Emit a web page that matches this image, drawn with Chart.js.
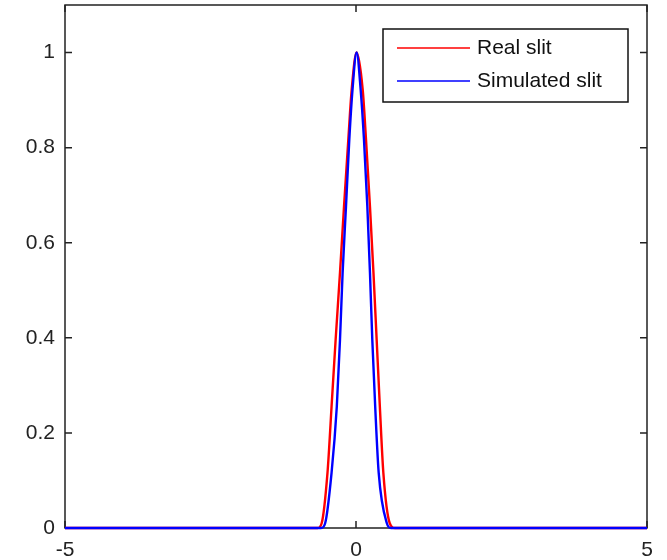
<!DOCTYPE html>
<html>
<head>
<meta charset="utf-8">
<script src="https://cdn.jsdelivr.net/npm/chart.js@4"></script>
<style>
  html, body { margin: 0; padding: 0; background: #fff; }
  #wrap { width: 667px; height: 560px; }
</style>
</head>
<body>
<div id="wrap"><canvas id="chart-area"></canvas></div>
<script>
// real slit profile (x, y)
var realX = [-5, -0.66, -0.59, -0.49, -0.42, -0.35, -0.275, -0.206, -0.132, -0.074, 0.01, 0.115, 0.172, 0.24, 0.30, 0.355, 0.41, 0.47, 0.58, 0.67, 5];
var realY = [0, 0, 0.01, 0.116, 0.255, 0.396, 0.537, 0.676, 0.817, 0.922, 1.0, 0.922, 0.817, 0.676, 0.537, 0.396, 0.255, 0.116, 0.01, 0, 0];

// simulated slit
var simX = [-5, -0.6, -0.53, -0.42, -0.33, -0.275, -0.23, -0.172, -0.115, -0.06, 0.01, 0.08, 0.137, 0.195, 0.24, 0.28, 0.33, 0.39, 0.53, 0.6, 5];
var simY = [0, 0, 0.01, 0.116, 0.255, 0.396, 0.537, 0.676, 0.817, 0.922, 1.0, 0.922, 0.817, 0.676, 0.537, 0.396, 0.255, 0.116, 0.01, 0, 0];

var xTicks = [-5, 0, 5];
var yTicks = [0, 0.2, 0.4, 0.6, 0.8, 1];

var FONT = "'Liberation Sans', Arial, sans-serif";

function pts(xs, ys) {
  return xs.map(function(x, i) { return { x: x, y: ys[i] }; });
}

// frame + inward ticks under the lines, legend box on top (matlab style)
var matlabAxes = {
  id: 'matlabAxes',
  beforeDatasetsDraw: function(chart) {
    var c = chart.ctx, a = chart.chartArea;
    var xs = chart.scales.x, ys = chart.scales.y;
    c.save();
    c.strokeStyle = '#222';
    c.lineWidth = 1.5;
    c.strokeRect(a.left, a.top, a.right - a.left, a.bottom - a.top);
    c.beginPath();
    xTicks.forEach(function(v) {
      var px = xs.getPixelForValue(v);
      c.moveTo(px, a.bottom); c.lineTo(px, a.bottom - 7);
      c.moveTo(px, a.top); c.lineTo(px, a.top + 7);
    });
    yTicks.forEach(function(v) {
      var py = ys.getPixelForValue(v);
      c.moveTo(a.left, py); c.lineTo(a.left + 7, py);
      c.moveTo(a.right, py); c.lineTo(a.right - 7, py);
    });
    c.stroke();
    c.restore();
  },
  afterDraw: function(chart) {
    var c = chart.ctx;
    c.save();
    var lx = 383, ly = 29, lw = 245, lh = 73;
    c.fillStyle = '#fff';
    c.fillRect(lx, ly, lw, lh);
    c.strokeStyle = '#111';
    c.lineWidth = 1.5;
    c.strokeRect(lx, ly, lw, lh);
    var rows = [chart.data.datasets[1], chart.data.datasets[0]];
    rows.forEach(function(ds, i) {
      var ry = ly + 19 + i * 33;
      c.strokeStyle = ds.borderColor;
      c.lineWidth = 1.5;
      c.beginPath();
      c.moveTo(397, ry); c.lineTo(470, ry);
      c.stroke();
      c.fillStyle = '#111';
      c.font = '21px ' + FONT;
      c.textBaseline = 'middle';
      c.textAlign = 'left';
      c.fillText(ds.label, 477, ry);
    });
    c.restore();
  }
};

var config = {
  type: 'line',
  data: {
    datasets: [
      {
        label: 'Simulated slit',
        data: pts(simX, simY),
        borderColor: '#0000ff',
        borderWidth: 2.4,
        pointRadius: 0,
        cubicInterpolationMode: 'monotone',
        clip: false,
        order: 0
      },
      {
        label: 'Real slit',
        data: pts(realX, realY),
        borderColor: '#ff0000',
        borderWidth: 2.4,
        pointRadius: 0,
        cubicInterpolationMode: 'monotone',
        clip: false,
        order: 1
      }
    ]
  },
  options: {
    responsive: false,
    animation: false,
    layout: { padding: { top: 5, right: 20, left: 0, bottom: 0 } },
    plugins: {
      legend: { display: false },
      tooltip: { enabled: false }
    },
    scales: {
      x: {
        type: 'linear',
        min: -5,
        max: 5,
        grid: { display: false, drawTicks: false },
        border: { display: false },
        afterBuildTicks: function(s) { s.ticks = xTicks.map(function(v) { return { value: v }; }); },
        afterFit: function(s) { s.height = 32; s.paddingLeft = 0; s.paddingRight = 0; },
        ticks: { color: '#222', font: { family: FONT, size: 21 }, padding: 10, maxRotation: 0,
                 callback: function(v) { return String(v); } }
      },
      y: {
        type: 'linear',
        min: 0,
        max: 1.1,
        grid: { display: false, drawTicks: false },
        border: { display: false },
        afterBuildTicks: function(s) { s.ticks = yTicks.map(function(v) { return { value: v }; }); },
        afterFit: function(s) { s.width = 65; s.paddingTop = 0; s.paddingBottom = 0; },
        ticks: { color: '#222', font: { family: FONT, size: 21 }, padding: 10,
                 callback: function(v) { return String(v); } }
      }
    }
  },
  plugins: [matlabAxes]
};

var canvas = document.getElementById('chart-area');
canvas.width = 667;
canvas.height = 560;
var myChart = new Chart(canvas.getContext('2d'), config);
</script>
</body>
</html>
